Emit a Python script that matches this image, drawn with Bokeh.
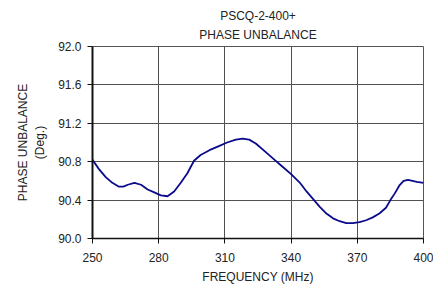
from bokeh.plotting import figure
from bokeh.models import Range1d, FixedTicker, Title
from bokeh.embed import file_html
from bokeh.resources import INLINE

freq = [250, 253, 256, 259, 262, 264, 266, 269, 272, 275, 278, 281, 284, 287, 290,
        293, 296, 299, 303, 307, 311, 315, 318, 321, 324, 328, 332, 336, 340, 344,
        347, 350, 353, 356, 359, 362, 365, 368, 371, 374, 377, 380, 383, 385, 387,
        389, 391, 393, 395, 397, 400]
phase = [90.82, 90.72, 90.64, 90.58, 90.54, 90.54, 90.56, 90.58, 90.56, 90.51, 90.48,
         90.45, 90.44, 90.49, 90.58, 90.68, 90.81, 90.87, 90.92, 90.96, 91.00, 91.03,
         91.04, 91.03, 90.99, 90.91, 90.83, 90.75, 90.67, 90.58, 90.49, 90.41, 90.33,
         90.26, 90.21, 90.18, 90.16, 90.16, 90.17, 90.19, 90.22, 90.26, 90.32, 90.40,
         90.47, 90.55, 90.60, 90.61, 90.60, 90.59, 90.58]
x_ticks = [250, 280, 310, 340, 370, 400]
y_ticks = [90.0, 90.4, 90.8, 91.2, 91.6, 92.0]

FONT = "Liberation Sans"

p = figure(width=433, height=286, output_backend="svg", toolbar_location=None,
           x_range=Range1d(250, 400), y_range=Range1d(90.0, 92.0),
           min_border_left=92, min_border_right=10, min_border_bottom=10,
           min_border_top=46)
p.title = None
p.add_layout(Title(text="PHASE UNBALANCE", align="center", text_font=FONT,
                   text_font_size="12px", text_font_style="normal",
                   text_color="#222222", standoff=9), "above")
p.add_layout(Title(text="PSCQ-2-400+", align="center", text_font=FONT,
                   text_font_size="12px", text_font_style="normal",
                   text_color="#222222", standoff=-2), "above")

p.line(freq, phase, line_color="#0a0a8c", line_width=1.8)

p.outline_line_color = "#555555"
p.outline_line_width = 1
p.background_fill_color = "white"
p.border_fill_color = "white"

for g in (p.xgrid[0], p.ygrid[0]):
    g.grid_line_color = "#505050"
    g.grid_line_width = 1
p.xgrid.ticker = FixedTicker(ticks=x_ticks)
p.ygrid.ticker = FixedTicker(ticks=y_ticks)

xa = p.xaxis[0]
xa.ticker = FixedTicker(ticks=x_ticks)
xa.major_label_overrides = {t: str(t) for t in x_ticks}
xa.axis_label = "FREQUENCY (MHz)"
ya = p.yaxis[0]
ya.ticker = FixedTicker(ticks=y_ticks)
ya.major_label_overrides = {t: f"{t:.1f}" for t in y_ticks}
ya.axis_label = "PHASE UNBALANCE\n(Deg.)"

for ax in (xa, ya):
    ax.axis_line_color = "#111111"
    ax.axis_line_width = 2
    ax.major_tick_line_color = "#111111"
    ax.major_tick_in = 0
    ax.major_tick_out = 5
    ax.minor_tick_line_color = None
    ax.major_label_text_font = FONT
    ax.major_label_text_font_size = "12px"
    ax.major_label_text_color = "#222222"
    ax.axis_label_text_font = FONT
    ax.axis_label_text_font_size = "12px"
    ax.axis_label_text_font_style = "normal"
    ax.axis_label_text_color = "#222222"
xa.axis_line_width = 1.5
xa.major_label_standoff = 9
xa.axis_label_standoff = 5
ya.major_label_standoff = 6
ya.axis_label_standoff = 8

open("out.html", "w").write(file_html(p, INLINE))
